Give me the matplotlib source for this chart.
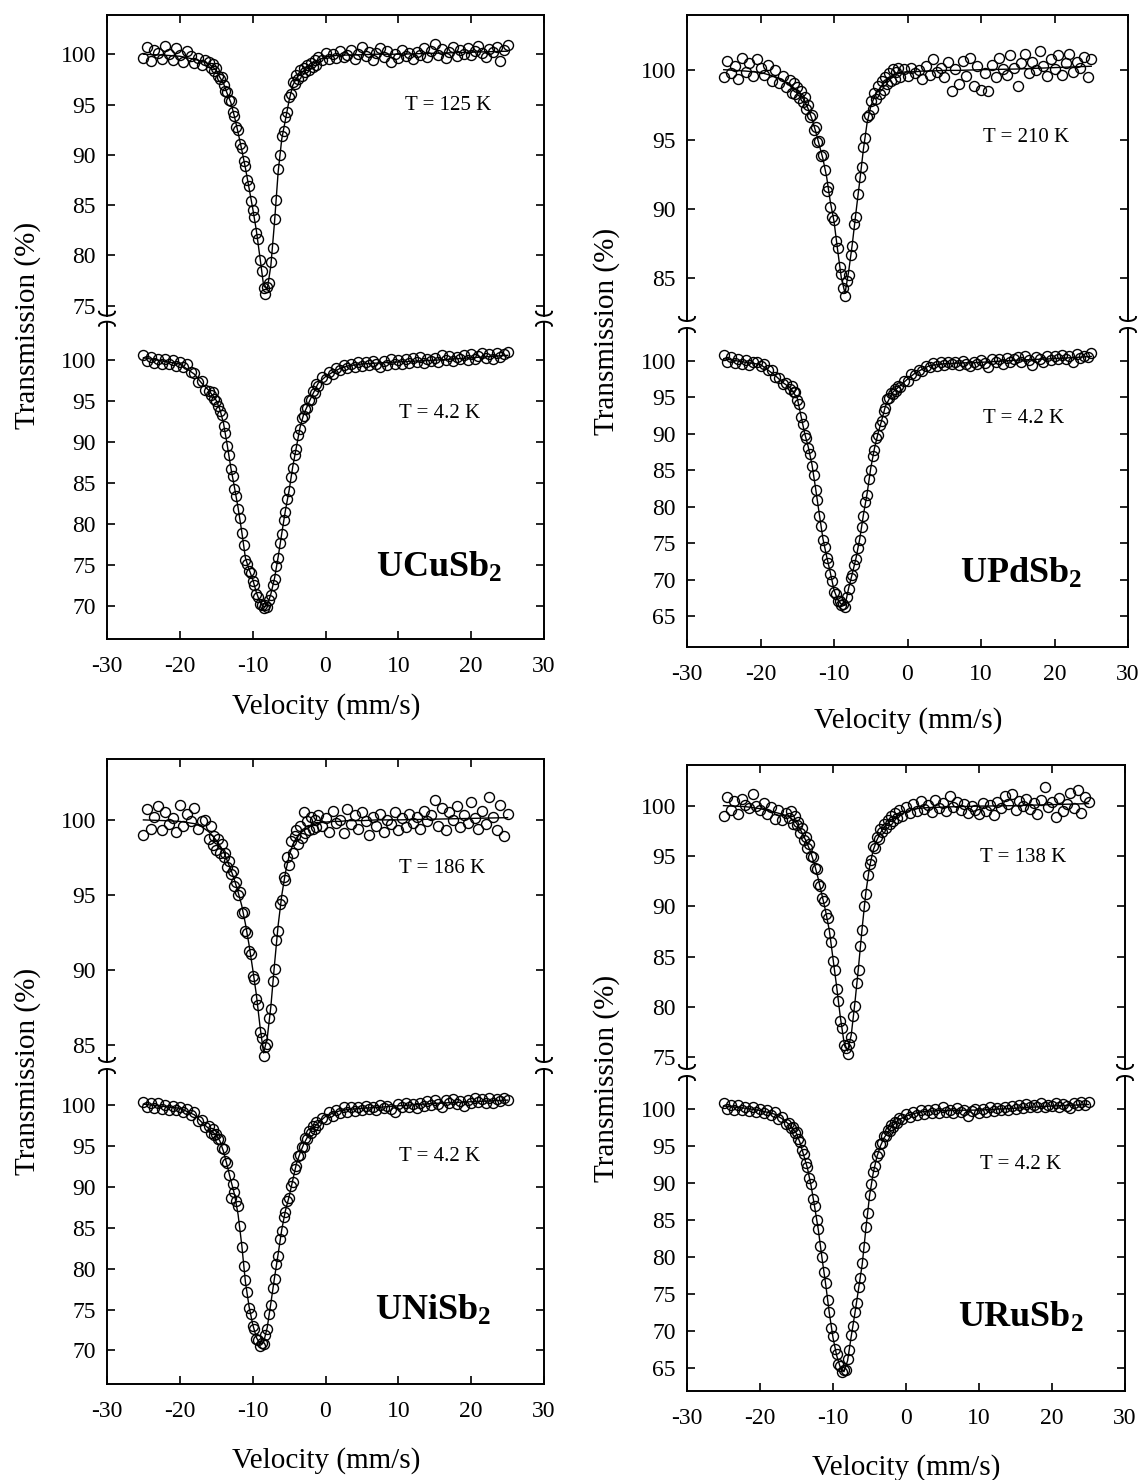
import numpy as np
import matplotlib
matplotlib.use('Agg')
import matplotlib.pyplot as plt
from matplotlib.lines import Line2D

plt.rcParams['font.family'] = ['Liberation Serif', 'DejaVu Serif']
plt.rcParams['mathtext.fontset'] = 'custom'
plt.rcParams['mathtext.rm'] = 'Liberation Serif'
plt.rcParams['mathtext.bf'] = 'Liberation Serif:bold'
plt.rcParams['axes.unicode_minus'] = False

W, H = 1139, 1480

# velocity channels (mm/s) and the knots of the fitted curves
vel = np.concatenate([np.linspace(-25, -16.5, 18),
                      np.linspace(-16, -1, 61),
                      np.linspace(-0.5, 25, 52)])
fit_vel = [-25, -22, -20, -18, -17, -16, -15,
           -14.5, -14, -13.5, -13, -12.5, -12, -11.5, -11, -10.5, -10, -9.5, -9,
           -8.5, -8, -7.5, -7, -6.5, -6, -5.5, -5, -4.5, -4, -3.5, -3,
           -2, -1, 0, 1, 2, 3, 5, 7, 10, 15, 20, 25]

# ---- UCuSb2 ----
ucusb2_125k = [99.6, 100.7, 99.3, 100.4, 100.1, 99.5, 100.8, 100.0, 99.4, 100.6, 99.9, 99.2, 100.3, 99.8, 99.1, 99.6, 98.9, 99.4,
               99.2, 98.6, 99.0, 98.3, 98.6, 97.8, 97.5, 97.7, 96.9, 96.3,
               96.2, 95.4, 95.3, 94.3, 93.9, 92.8, 92.5, 91.1, 90.7, 89.4,
               88.9, 87.5, 86.9, 85.4, 84.5, 83.8, 82.2, 81.6, 79.5, 78.4,
               76.8, 76.2, 76.9, 77.3, 79.3, 80.7, 83.6, 85.5, 88.6, 90.0,
               91.9, 92.4, 93.8, 94.3, 95.7, 96.0, 97.2, 97.0, 97.9, 97.5,
               98.4, 97.8, 98.6, 98.2, 98.9, 98.4, 99.1, 98.7, 99.4, 98.9,
               99.7,
               99.4, 100.1, 99.5, 100.0, 99.6, 100.3, 99.7, 99.9, 100.4, 99.5,
               100.0, 100.7, 99.8, 100.2, 99.4, 100.1, 100.6, 99.7, 100.3, 99.2,
               100.0, 99.6, 100.4, 99.8, 100.1, 99.5, 100.2, 99.9, 100.6, 99.7,
               100.3, 101.0, 99.9, 100.5, 99.6, 100.2, 100.7, 99.8, 100.4, 100.0,
               100.6, 99.9, 100.3, 100.8, 100.1, 99.7, 100.5, 100.2, 100.7, 99.3,
               100.4, 100.9]
ucusb2_125k_fit = [100.0, 99.9, 99.8, 99.5, 99.3, 99.05, 98.4,
                   97.7, 97.1, 96.1, 95.2, 93.8, 92.2, 90.5, 88.7, 86.7, 84.7, 82.5, 79.8,
                   77.0, 76.6, 79.0, 83.3, 88.3, 91.6, 93.5, 95.4, 96.9, 97.6, 98.05, 98.35,
                   98.8, 99.4, 99.75, 99.85, 99.9, 99.92, 99.95, 100.0, 100.0, 100.1, 100.2, 100.3]
ucusb2_4k = [100.6, 99.9, 100.4, 99.7, 100.2, 99.6, 100.1, 99.5, 100.0, 99.3, 99.8, 99.2, 99.5, 98.6, 98.5, 97.4, 97.5, 96.4,
             96.2, 95.7, 96.1, 95.3, 95.0, 94.4, 93.8, 93.3, 92.0, 91.1,
             89.5, 88.4, 86.7, 85.9, 84.3, 83.4, 81.8, 80.7, 78.9, 77.5,
             75.6, 75.1, 74.3, 74.1, 73.1, 72.6, 71.5, 71.1, 70.3, 70.2,
             69.8, 70.1, 69.9, 70.8, 71.4, 72.6, 73.3, 74.9, 75.9, 77.7,
             78.8, 80.5, 81.5, 83.1, 84.0, 85.8, 86.8, 88.4, 89.2, 90.9,
             91.6, 92.9, 93.2, 94.1, 94.2, 95.2, 95.1, 96.2, 96.0, 97.1,
             96.9,
             97.9, 97.7, 98.6, 98.3, 99.1, 98.8, 99.4, 99.0, 99.6, 99.2,
             99.8, 99.3, 99.8, 99.4, 99.9, 99.5, 99.2, 99.9, 99.4, 100.2,
             99.6, 100.0, 99.5, 100.1, 99.7, 100.3, 99.8, 100.4, 99.7, 100.2,
             99.9, 100.3, 99.8, 100.6, 100.0, 100.5, 99.9, 100.4, 100.1, 100.6,
             100.0, 100.7, 100.2, 100.5, 100.9, 100.3, 100.7, 100.2, 100.9, 100.4,
             100.8, 101.0]
ucusb2_4k_fit = [100.3, 99.85, 99.55, 98.3, 97.2, 96.3, 95.1,
                 94.0, 92.3, 89.7, 86.9, 84.5, 82.0, 79.1, 75.9, 74.5, 73.3, 71.7, 70.5,
                 69.9, 70.1, 71.5, 73.4, 76.0, 78.9, 81.7, 84.1, 87.0, 89.4, 91.8, 93.4,
                 95.4, 97.2, 98.0, 98.55, 99.0, 99.3, 99.55, 99.65, 99.8, 100.0, 100.3, 100.6]

# ---- UPdSb2 ----
updsb2_210k = [99.5, 100.7, 99.8, 100.3, 99.4, 100.9, 99.9, 100.5, 99.6, 100.8, 100.2, 99.7, 100.4, 99.2, 100.0, 99.1, 99.6, 98.8,
               99.3, 98.4, 99.1, 98.3, 98.8, 98.0, 98.5, 97.7, 98.1, 97.2,
               97.5, 96.6, 96.8, 95.7, 95.9, 94.8, 94.9, 93.8, 93.9, 92.8,
               91.3, 91.6, 90.1, 89.4, 89.2, 87.7, 87.2, 85.8, 85.3, 84.3,
               83.7, 84.8, 85.2, 86.7, 87.3, 88.9, 89.4, 91.1, 92.3, 93.0,
               94.5, 95.1, 96.6, 96.8, 97.8, 97.2, 98.4, 97.9, 98.9, 98.3,
               99.2, 98.6, 99.5, 99.0, 99.8, 99.2, 100.1, 99.4, 99.9, 100.2,
               99.5,
               100.1, 99.6, 100.2, 99.8, 100.0, 99.4, 100.3, 99.7, 100.8, 99.9,
               100.2, 99.5, 100.6, 98.5, 100.1, 99.0, 100.7, 99.6, 100.9, 98.9,
               100.3, 98.6, 99.8, 98.5, 100.4, 99.5, 100.9, 100.1, 99.7, 101.1,
               100.2, 98.9, 100.5, 101.2, 99.8, 100.6, 100.0, 101.4, 100.3, 99.6,
               100.8, 100.1, 101.1, 99.7, 100.5, 101.2, 99.9, 100.6, 100.2, 101.0,
               99.5, 100.8]
updsb2_210k_fit = [100.05, 99.95, 99.85, 99.55, 99.3, 98.95, 98.55,
                   98.2, 97.8, 97.2, 96.5, 95.6, 94.6, 93.6, 92.3, 90.5, 89.1, 87.0, 85.0,
                   83.9, 85.5, 87.5, 89.8, 92.0, 94.3, 96.2, 97.4, 98.1, 98.55, 98.9, 99.2,
                   99.65, 99.85, 99.9, 99.9, 99.95, 99.95, 100.0, 100.0, 100.05, 100.1, 100.2, 100.3]
updsb2_4k = [100.8, 99.9, 100.5, 99.7, 100.3, 99.5, 100.1, 99.4, 99.9, 99.9, 99.3, 99.6, 98.8, 98.8, 97.8, 97.7, 96.8, 96.9,
             96.1, 96.5, 95.7, 95.8, 94.6, 94.1, 92.3, 91.4, 89.9, 89.4,
             88.0, 87.3, 85.6, 84.4, 82.3, 80.9, 78.8, 77.4, 75.4, 74.5,
             73.0, 72.3, 70.8, 69.9, 68.4, 68.0, 67.1, 67.1, 66.5, 66.7,
             66.3, 67.6, 68.7, 70.2, 70.7, 72.0, 72.8, 74.4, 75.4, 77.3,
             78.7, 80.6, 81.6, 83.8, 85.1, 86.9, 87.8, 89.4, 89.9, 91.2,
             91.7, 93.1, 93.6, 94.8, 94.9, 95.6, 95.5, 96.2, 95.9, 96.6,
             96.4,
             97.2, 97.3, 98.2, 98.1, 98.8, 98.6, 99.3, 99.1, 99.7, 99.3,
             99.8, 99.4, 99.9, 99.5, 99.8, 99.4, 100.0, 99.6, 99.3, 99.9,
             99.5, 100.1, 99.7, 99.2, 100.2, 99.8, 100.3, 99.6, 100.4, 99.9,
             100.2, 100.5, 99.9, 100.6, 100.1, 99.4, 100.5, 100.2, 99.8, 100.6,
             100.1, 100.7, 100.3, 100.8, 100.2, 100.6, 99.8, 100.9, 100.4, 100.7,
             100.5, 101.1]
updsb2_4k_fit = [100.3, 99.8, 99.5, 98.0, 97.05, 96.35, 94.9,
                 92.5, 90.1, 88.2, 85.8, 82.5, 79.0, 75.6, 73.2, 71.0, 68.6, 67.3, 66.65,
                 66.5, 68.9, 70.9, 73.0, 75.6, 78.9, 81.8, 85.3, 88.0, 90.1, 91.9, 93.8,
                 95.7, 96.6, 97.5, 98.3, 98.85, 99.35, 99.6, 99.7, 99.8, 100.1, 100.3, 100.6]

# ---- UNiSb2 ----
unisb2_186k = [99.0, 100.7, 99.4, 100.2, 100.9, 99.3, 100.5, 99.7, 100.1, 99.2, 101.0, 99.6, 100.4, 99.9, 100.8, 99.4, 99.9, 100.0,
               98.7, 99.6, 98.3, 98.9, 98.0, 98.7, 97.8, 98.4, 97.5, 97.8,
               96.9, 97.3, 96.4, 96.6, 95.6, 95.9, 95.0, 95.2, 93.8, 93.9,
               92.6, 92.5, 91.3, 91.1, 89.6, 89.4, 88.1, 87.7, 85.9, 85.5,
               84.3, 84.9, 85.1, 86.8, 87.4, 89.3, 90.1, 92.0, 92.6, 94.4,
               94.7, 96.2, 96.0, 97.5, 97.0, 98.6, 97.8, 98.9, 99.3, 98.4,
               99.6, 98.8, 100.5, 99.1, 99.9, 99.3, 100.2, 99.4, 100.0, 99.5,
               100.3,
               99.6, 100.1, 99.2, 100.6, 99.8, 100.0, 99.1, 100.7, 99.7, 100.3,
               99.4, 100.5, 99.9, 99.0, 100.2, 99.6, 100.4, 99.2, 100.0, 99.7,
               100.5, 99.3, 100.1, 99.5, 100.4, 99.8, 100.2, 99.4, 100.6, 99.9,
               100.3, 101.3, 99.6, 100.8, 99.3, 100.5, 100.0, 100.9, 99.5, 100.3,
               99.8, 101.2, 100.1, 99.4, 100.6, 99.7, 101.5, 100.2, 99.3, 101.0,
               98.9, 100.4]
unisb2_186k_fit = [100.0, 99.95, 99.9, 99.75, 99.55, 99.2, 98.65,
                   98.3, 97.9, 97.3, 96.7, 96.0, 95.2, 94.3, 93.1, 91.7, 90.1, 88.4, 86.3,
                   84.5, 85.5, 87.6, 90.4, 93.0, 95.0, 96.5, 97.6, 98.35, 98.8, 99.1, 99.3,
                   99.6, 99.8, 99.85, 99.9, 99.9, 99.95, 99.95, 100.0, 100.0, 100.05, 100.1, 100.15]
unisb2_4k = [100.4, 99.7, 100.3, 99.6, 100.2, 99.5, 100.0, 99.4, 99.9, 99.4, 99.8, 99.2, 99.5, 98.8, 99.1, 98.1, 98.2, 97.3,
             97.4, 96.6, 97.1, 96.3, 96.5, 95.8, 95.9, 94.7, 94.6, 93.2,
             92.9, 91.4, 88.6, 90.4, 89.4, 88.3, 87.6, 85.2, 82.7, 80.3,
             78.6, 77.2, 75.2, 74.5, 73.0, 72.6, 71.4, 71.3, 70.6, 70.9,
             70.8, 71.9, 72.6, 74.4, 75.6, 77.6, 78.7, 80.6, 81.6, 83.6,
             84.6, 86.3, 86.9, 88.3, 88.6, 90.1, 90.6, 92.2, 92.6, 93.8,
             93.9, 94.9, 94.9, 96.0, 95.9, 96.8, 96.6, 97.4, 97.1, 97.9,
             97.5,
             98.4, 98.3, 99.1, 98.7, 99.4, 99.0, 99.7, 99.2, 99.8, 99.3,
             99.8, 99.4, 99.9, 99.5, 99.8, 99.4, 100.0, 99.6, 99.9, 99.5,
             99.2, 100.1, 99.7, 100.2, 99.8, 100.1, 99.6, 100.3, 99.9, 100.5,
             100.0, 100.6, 100.1, 99.8, 100.6, 100.2, 100.7, 100.1, 100.5, 99.9,
             100.6, 100.3, 100.9, 100.4, 100.7, 100.2, 100.9, 100.3, 100.7, 100.5,
             100.9, 100.6]
unisb2_4k_fit = [100.1, 99.8, 99.6, 98.8, 97.9, 97.1, 96.3,
                 95.6, 94.3, 92.6, 90.8, 89.1, 86.6, 82.9, 78.4, 75.4, 73.2, 71.6, 70.8,
                 71.0, 72.8, 75.8, 78.9, 81.8, 84.8, 87.1, 88.8, 90.8, 92.8, 94.1, 95.2,
                 96.9, 97.8, 98.6, 99.0, 99.3, 99.45, 99.6, 99.7, 99.9, 100.2, 100.4, 100.6]

# ---- URuSb2 ----
urusb2_138k = [99.0, 100.9, 99.6, 100.5, 99.2, 100.7, 100.1, 99.8, 101.2, 100.0, 99.6, 100.3, 99.2, 99.9, 98.7, 99.6, 98.6, 99.3,
               98.8, 99.5, 98.2, 99.0, 98.1, 98.4, 97.3, 97.8, 96.6, 96.9,
               95.8, 96.2, 95.0, 94.9, 93.8, 93.7, 92.2, 92.0, 90.8, 90.5,
               89.2, 88.9, 87.4, 86.5, 84.6, 83.7, 81.8, 80.6, 78.6, 77.9,
               76.2, 75.9, 75.3, 76.3, 77.0, 79.1, 80.1, 82.4, 83.7, 86.1,
               87.7, 90.0, 91.2, 93.1, 94.2, 94.6, 96.0, 95.8, 96.9, 96.7,
               97.7, 97.4, 98.2, 97.8, 98.6, 98.2, 99.0, 98.5, 99.3, 98.8,
               99.6,
               99.0, 99.9, 99.3, 100.2, 99.5, 100.5, 99.7, 100.1, 99.4, 100.6,
               99.8, 100.3, 99.5, 101.0, 99.9, 100.4, 99.6, 100.2, 99.3, 100.0,
               99.6, 99.2, 100.3, 99.5, 100.1, 99.1, 100.4, 99.8, 101.0, 100.2,
               101.2, 99.6, 100.5, 100.0, 100.7, 99.7, 100.3, 99.2, 100.6, 101.9,
               99.9, 100.4, 98.9, 100.8, 99.5, 100.2, 101.3, 99.8, 101.6, 99.3,
               100.9, 100.4]
urusb2_138k_fit = [100.05, 99.95, 99.75, 99.4, 99.2, 98.95, 98.3,
                   97.7, 97.0, 96.2, 95.3, 94.1, 92.7, 91.1, 89.5, 87.6, 84.8, 82.0, 79.0,
                   76.5, 75.6, 77.2, 80.4, 84.0, 87.9, 91.4, 93.9, 95.6, 96.6, 97.35, 97.9,
                   98.65, 99.1, 99.45, 99.7, 99.8, 99.85, 99.9, 99.95, 100.0, 100.05, 100.15, 100.25]
urusb2_4k = [100.8, 100.0, 100.6, 99.9, 100.5, 99.8, 100.3, 99.7, 100.2, 99.6, 100.0, 99.5, 99.8, 99.2, 99.6, 98.7, 98.9, 98.0,
             98.1, 97.4, 97.5, 96.8, 96.9, 95.9, 95.6, 94.4, 93.9, 92.7,
             92.2, 90.7, 89.8, 87.9, 86.9, 85.0, 83.8, 81.5, 80.0, 78.0,
             76.5, 74.2, 72.6, 70.4, 69.3, 67.6, 66.9, 65.6, 65.3, 64.4,
             64.7, 64.8, 66.2, 67.4, 69.5, 70.7, 72.6, 73.8, 75.9, 77.1,
             79.2, 81.3, 84.0, 86.0, 88.4, 89.8, 91.5, 92.3, 93.7, 94.1,
             95.2, 95.4, 96.3, 96.3, 97.1, 97.0, 97.8, 97.6, 98.3, 98.1,
             98.8,
             98.6, 99.3, 98.9, 99.6, 99.2, 99.8, 99.3, 99.9, 99.4, 100.0,
             99.5, 100.2, 99.6, 99.9, 99.4, 100.1, 99.6, 99.9, 99.1, 99.7,
             100.0, 99.5, 100.0, 99.6, 100.3, 99.7, 100.1, 99.8, 100.2, 99.9,
             100.4, 100.0, 100.5, 100.1, 100.7, 100.2, 100.6, 100.3, 100.8, 100.2,
             100.6, 100.4, 100.8, 100.3, 100.7, 100.4, 100.1, 100.8, 100.5, 100.9,
             100.6, 101.0]
urusb2_4k_fit = [100.4, 100.1, 99.8, 99.3, 98.7, 97.9, 96.7,
                 95.4, 93.7, 92.0, 89.6, 86.7, 83.6, 79.8, 76.3, 72.4, 69.1, 66.7, 65.1,
                 64.5, 66.0, 69.3, 72.4, 75.7, 79.0, 83.8, 88.2, 91.3, 93.5, 95.0, 96.1,
                 97.55, 98.55, 99.05, 99.35, 99.6, 99.7, 99.8, 99.82, 99.85, 100.1, 100.4, 100.6]

compounds = [r'$\mathbf{UCuSb_2}$', r'$\mathbf{UPdSb_2}$', r'$\mathbf{UNiSb_2}$', r'$\mathbf{URuSb_2}$']
hot_temps = ['T = 125 K', 'T = 210 K', 'T = 186 K', 'T = 138 K']
hot_data = [ucusb2_125k, updsb2_210k, unisb2_186k, urusb2_138k]
hot_fits = [ucusb2_125k_fit, updsb2_210k_fit, unisb2_186k_fit, urusb2_138k_fit]
cold_data = [ucusb2_4k, updsb2_4k, unisb2_4k, urusb2_4k]
cold_fits = [ucusb2_4k_fit, updsb2_4k_fit, unisb2_4k_fit, urusb2_4k_fit]
upper_ticks = [[75, 80, 85, 90, 95, 100], [85, 90, 95, 100], [85, 90, 95, 100], [75, 80, 85, 90, 95, 100]]
lower_ticks = [[70, 75, 80, 85, 90, 95, 100], [65, 70, 75, 80, 85, 90, 95, 100],
               [70, 75, 80, 85, 90, 95, 100], [65, 70, 75, 80, 85, 90, 95, 100]]
x_ticks = [-30, -20, -10, 0, 10, 20, 30]

# layout in pixels: left, right, top, upper bottom, lower top, bottom
boxes = [(107, 544, 15, 315.7, 321.7, 639),
         (687, 1128, 15, 321, 328, 647),
         (107, 544, 759, 1062, 1069, 1384),
         (687, 1125, 765, 1069, 1076, 1391)]
upper_lims = [(74.0, 103.9), (81.9, 104.0), (83.9, 104.05), (73.8, 104.1)]
lower_lims = [(66.0, 104.7), (60.8, 104.5), (65.9, 104.4), (61.9, 104.45)]
hot_pos = [(16.8, 94.5), (16.1, 94.85), (16.0, 96.5), (16.0, 94.45)]
cold_pos = [(15.6, 93.0), (15.85, 91.5), (15.7, 93.1), (15.7, 91.85)]
name_pos = [(24.3, 73.6), (23.8, 69.6), (22.8, 73.75), (24.4, 70.5)]
xlab_pos = [(326, 714), (908, 728), (326, 1468), (906, 1475)]
ylab_pos = [(28, 325), (607, 331), (28, 1071), (607, 1078)]


def fx(px):
    return px / W


def fy(py):
    return 1 - py / H


def style_axes(ax, lower):
    for s in ax.spines.values():
        s.set_linewidth(1.4)
    if lower:
        ax.spines['top'].set_visible(False)
    else:
        ax.spines['bottom'].set_visible(False)
    ax.tick_params(direction='in', length=6, width=1.2, labelsize=17,
                   left=True, right=True, top=not lower, bottom=lower,
                   labelbottom=lower, labeltop=False)
    ax.tick_params(axis='y', pad=8)
    ax.tick_params(axis='x', pad=12)
    ax.set_xlim(-30, 30)
    ax.set_xticks(x_ticks)


def break_marks(x_px, y_up, y_low):
    t = np.linspace(0, np.pi, 25)
    xs = x_px + 8 * np.cos(t)
    smile = y_up - 4 + 4 * np.sin(t)
    frown = y_low + 4 - 4 * np.sin(t)
    for ys in (smile, frown):
        fig.add_artist(Line2D(fx(xs), fy(ys), transform=fig.transFigure,
                              color='k', lw=1.4))


fig = plt.figure(figsize=(W / 100, H / 100), dpi=100)

for i in range(4):
    left, right, top, y_up, y_low, bottom = boxes[i]
    ax_u = fig.add_axes([fx(left), fy(y_up), (right - left) / W, (y_up - top) / H])
    ax_l = fig.add_axes([fx(left), fy(bottom), (right - left) / W, (bottom - y_low) / H])

    for ax, data, fit, lims, ticks, lower in ((ax_u, hot_data[i], hot_fits[i], upper_lims[i], upper_ticks[i], False),
                                             (ax_l, cold_data[i], cold_fits[i], lower_lims[i], lower_ticks[i], True)):
        ax.plot(vel, data, 'o', mfc='none', mec='k', ms=7.2, mew=1.0, zorder=2)
        ax.plot(fit_vel, fit, '-', color='k', lw=1.0, zorder=3)
        ax.set_ylim(*lims)
        ax.set_yticks(ticks)
        style_axes(ax, lower)

    ax_u.text(*hot_pos[i], hot_temps[i], ha='center', va='baseline', fontsize=15)
    ax_l.text(*cold_pos[i], 'T = 4.2 K', ha='center', va='baseline', fontsize=15)
    ax_l.text(*name_pos[i], compounds[i], ha='right', va='baseline', fontsize=26)

    break_marks(left, y_up, y_low)
    break_marks(right, y_up, y_low)

    fig.text(fx(xlab_pos[i][0]), fy(xlab_pos[i][1]), 'Velocity (mm/s)',
             ha='center', va='baseline', fontsize=21)
    fig.text(fx(ylab_pos[i][0]), fy(ylab_pos[i][1]), 'Transmission (%)',
             ha='center', va='center', rotation=90, fontsize=21)

fig.savefig('out.png', dpi=100)
